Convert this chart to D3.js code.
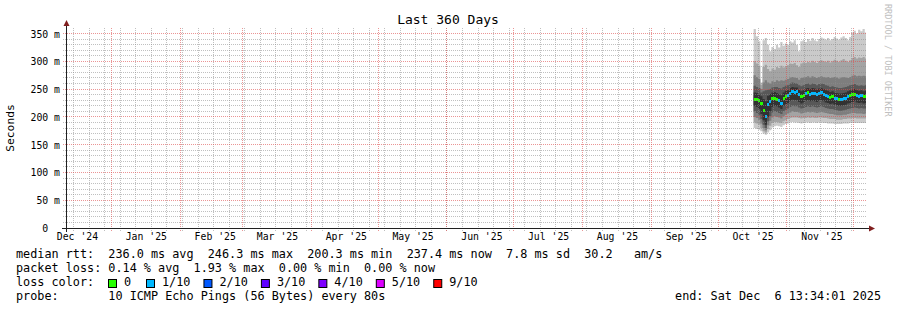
<!DOCTYPE html>
<html><head><meta charset="utf-8">
<script src="https://cdn.jsdelivr.net/npm/d3@7/dist/d3.min.js"></script>
<style>
body{margin:0;background:#fff;}
svg text{font-family:"DejaVu Sans Mono",monospace;}
</style></head><body>
<svg id="c" width="897" height="310"></svg>
<script>
// ---------------- data ----------------
const title = "Last 360 Days";
const yLabel = "Seconds";
const watermark = "RRDTOOL / TOBI OETIKER";
const endTime = "2025-12-06T13:34:01Z";
const spanDays = 360;
const dataStart = "2025-10-17T00:00:00Z";
const yTickValues = [0, 0.05, 0.10, 0.15, 0.20, 0.25, 0.30, 0.35];
const yTickLabels = ["0  ", "50 m", "100 m", "150 m", "200 m", "250 m", "300 m", "350 m"];

// daily median rtt (ms)
const median = [232,231,229,224,212,200.3,222,228,233,234,231,229,225,233,236,238,243,246.3,244,245,240,236,239,242,244,241,243,242,240,243,244,241,239,237,235,236,234,233,232,231,233,234,236,238,240,241,239,237,238,236,237.4];
// daily average lost pings (out of 10)
const loss = [0,0,0,0,0,0.2,0.05,0.03,0,0,0,0.02,0.02,0,0,0.02,0.03,0.02,0.02,0.01,0.02,0,0,0.02,0,0.02,0.01,0.02,0.02,0.01,0.02,0.02,0.01,0.02,0,0,0.02,0.01,0,0.02,0.02,0.01,0.02,0,0,0,0.02,0.01,0.02,0,0];
// sorted ping rtts (ms), p1 = fastest ... p10 = slowest
const p1  = [180,178,177,174,170,168,172,176,181,183,184,183,182,185,187,188,190,191,190,190,189,188,189,190,190,189,190,190,189,190,190,189,189,188,188,188,187,187,187,187,188,188,188,189,189,189,189,189,189,189,189];
const p2  = [190,188,186,180,174,172,178,184,189,191,191,190,189,192,194,196,198,199,199,199,198,197,198,198,199,198,199,198,198,199,199,198,198,197,196,196,196,195,195,195,196,196,197,197,198,198,197,197,197,197,197];
const p3  = [200,198,195,188,180,176,185,193,199,201,200,199,197,201,204,206,208,210,209,209,208,206,207,208,209,208,209,208,207,208,209,208,207,206,205,205,204,203,203,203,204,204,205,206,207,207,206,206,206,205,206];
const p4  = [210,207,203,196,186,180,192,201,208,210,209,207,205,210,213,215,218,220,219,219,217,215,216,218,219,218,219,218,217,218,219,218,216,215,214,214,213,212,211,211,212,213,214,215,216,217,216,215,216,215,215];
const p5  = [220,218,214,205,194,186,200,210,218,220,219,217,214,220,223,225,229,231,230,230,227,224,226,229,230,228,229,228,227,229,230,228,226,225,223,224,222,221,220,220,221,222,224,225,227,228,226,225,226,224,225];
const p6  = [244,243,241,237,232,228,238,241,244,245,243,241,239,244,247,248,252,254,253,253,249,246,248,251,252,250,252,251,249,251,252,250,248,247,245,246,244,243,242,242,243,244,246,248,249,250,248,247,248,246,247];
const p7  = [256,254,252,244,246,248,249,250,253,254,254,252,251,254,256,257,260,262,261,260,257,255,257,259,260,258,260,259,257,259,260,259,257,256,254,255,254,253,252,252,253,254,255,257,258,259,257,256,257,256,257];
const p8  = [275,272,268,250,262,266,262,260,264,263,266,264,266,265,267,268,271,272,271,270,267,270,271,272,273,271,273,272,270,272,273,272,271,272,270,271,272,271,269,271,272,271,270,272,274,275,273,274,273,274,273];
const p9  = [300,296,292,258,290,294,286,282,287,285,290,288,292,289,291,293,296,295,297,293,290,296,298,297,299,298,301,299,297,300,302,300,299,301,298,300,303,301,299,302,304,301,299,302,306,308,305,307,306,308,305];
const p10 = [358,345,336,262,338,342,330,318,326,322,330,325,335,328,332,330,336,334,338,330,318,336,338,335,340,337,342,338,336,340,343,341,339,342,338,340,344,341,339,343,345,342,338,344,352,355,350,357,354,358,352];

const lossThresholds = [0, 1, 2, 3, 4, 5, 9];
const lossLabels = ["0", "1/10", "2/10", "3/10", "4/10", "5/10", "9/10"];
const lossColors = ["#26ff00", "#00b8ff", "#0059ff", "#5e00ff", "#7e00ff", "#dd00ff", "#ff0000"];

const legendMedian = "median rtt:  236.0 ms avg  246.3 ms max  200.3 ms min  237.4 ms now  7.8 ms sd  30.2   am/s";
const legendLoss = "packet loss: 0.14 % avg  1.93 % max  0.00 % min  0.00 % now";
const legendLossColor = "loss color:";
const legendProbe = "probe:       10 ICMP Echo Pings (56 Bytes) every 80s";
const legendEnd = "end: Sat Dec  6 13:34:01 2025";

// ---------------- drawing ----------------
const svg = d3.select("#c");
svg.append("rect").attr("width", 897).attr("height", 310).attr("fill", "#fff");

const end = new Date(endTime);
const start = new Date(+end - spanDays * 864e5);
const x = d3.scaleUtc().domain([start, end]).range([66, 866]);
const y = d3.scaleLinear().domain([0, 0.36]).range([228, 28]);

const pings = [p1, p2, p3, p4, p5, p6, p7, p8, p9, p10];
const t0 = new Date(dataStart);
const rows = median.map((m, i) => ({
  t: d3.utcDay.offset(t0, i),
  p: pings.map(a => a[i] / 1000),
  m: m / 1000,
  l: loss[i]
}));
const rowsExt = rows.concat([Object.assign({}, rows[rows.length - 1], {t: end})]);

// smoke (smokeping style)
const half = pings.length / 2;
const gPlot = svg.append("g");
for (let k = 0; k < half; k++) {
  const c = Math.floor(190 / half * (half - (k + 1))) + 50;
  const hex = d3.rgb(c, c, c).formatHex();
  const area = d3.area()
    .curve(d3.curveStepAfter)
    .x(d => x(d.t))
    .y0(d => y(d.p[k]))
    .y1(d => y(d.p[pings.length - 1 - k]));
  gPlot.append("path").datum(rowsExt).attr("d", area).attr("fill", hex);
}

// median coloured by loss
const lossIndex = l => {
  for (let j = 0; j < lossThresholds.length; j++) if (l <= lossThresholds[j]) return j;
  return lossThresholds.length - 1;
};
const sw = 0.36 / 200 * 1.5;
gPlot.selectAll("rect.med").data(rows).enter().append("rect")
  .attr("class", "med")
  .attr("x", d => x(d.t))
  .attr("width", (d, i) => x(rowsExt[i + 1].t) - x(d.t))
  .attr("y", d => y(d.m + sw))
  .attr("height", d => y(d.m - sw) - y(d.m + sw))
  .attr("fill", d => lossColors[lossIndex(d.l)])
  .attr("shape-rendering", "crispEdges");

// grid: dotted 1px lines, each dot an exact pixel square
const gridGray = "rgba(140,140,140,0.55)";
const gridRed = "rgba(222,79,79,0.6)";
function dots(px, py, len, horiz) {
  let s = "";
  for (let k = 0; k < len; k += 2) {
    const ax = horiz ? px + k : px, ay = horiz ? py : py + k;
    s += `M${ax},${ay}h1v1h-1z`;
  }
  return s;
}
const minorY = d3.range(1, 35).map(v => v / 100).filter(v => Math.round(v * 100) % 5 !== 0);
const majorY = yTickValues.filter(v => v > 0);
function hGrid(vals, color) {
  svg.append("g").selectAll("path").data(vals).enter().append("path")
    .attr("d", d => dots(63, Math.floor(y(d)), 803, true))
    .attr("fill", color).attr("shape-rendering", "crispEdges");
}
function vGrid(vals, color) {
  svg.append("g").selectAll("path").data(vals).enter().append("path")
    .attr("d", d => dots(Math.floor(x(d)), 28, 204, false))
    .attr("fill", color).attr("shape-rendering", "crispEdges");
}
hGrid(minorY, gridGray);
vGrid(d3.utcSunday.range(start, end), gridGray);
hGrid(majorY, gridRed);
vGrid(d3.utcMonth.range(start, end), gridRed);

// axes lines
const axisCol = "#202020";
const ya = Math.floor(y(0)) + 0.5;
svg.append("line").attr("x1", 62).attr("x2", 870).attr("y1", ya).attr("y2", ya)
  .attr("stroke", axisCol);
svg.append("line").attr("x1", 66.5).attr("x2", 66.5).attr("y1", 232).attr("y2", 25)
  .attr("stroke", axisCol);
const arrowCol = "#801f1f";
svg.append("path").attr("d", `M869,${ya - 3}L875,${ya}L869,${ya + 3}Z`).attr("fill", arrowCol);
svg.append("path").attr("d", "M63.5,26L66.5,20L69.5,26Z").attr("fill", arrowCol);

// y tick labels
const gy = svg.append("g").attr("transform", "translate(66,0)")
  .call(d3.axisLeft(y).tickValues(yTickValues).tickSize(0).tickPadding(6)
    .tickFormat((d, i) => yTickLabels[i]));
gy.select(".domain").remove();
gy.selectAll("text").attr("font-size", "9.8px").attr("fill", "#000")
  .attr("font-family", "DejaVu Sans Mono").attr("dy", "0.36em")
  .attr("xml:space", "preserve").style("white-space", "pre");

// x month labels (centred in month)
const months = d3.utcMonth.range(d3.utcMonth.floor(start), end);
const labelDates = months.map(m => new Date(+m + 15.5 * 864e5)).filter(d => x(d) < 866);
const fmt = d3.utcFormat("%b '%y");
const gx = svg.append("g").attr("transform", `translate(0,${y(0)})`)
  .call(d3.axisBottom(x).tickValues(labelDates).tickSize(0).tickPadding(5)
    .tickFormat(d => fmt(d)));
gx.select(".domain").remove();
gx.selectAll("text").attr("font-size", "9.8px").attr("fill", "#000").attr("font-family", "DejaVu Sans Mono");

// title, y label, watermark
svg.append("text").attr("x", 448).attr("y", 24).attr("text-anchor", "middle")
  .attr("font-size", "13px").text(title);
svg.append("text").attr("transform", "translate(14,128) rotate(-90)").attr("text-anchor", "middle")
  .attr("font-size", "11.3px").text(yLabel);
svg.append("text").attr("transform", "translate(885,4) rotate(90)")
  .attr("font-size", "8.5px").attr("fill", "#c0c0c0").text(watermark);

// legend
const lfs = "11.8px";
const lg = svg.append("g").attr("font-size", lfs).attr("fill", "#000");
[[legendMedian, 258], [legendLoss, 272], [legendLossColor, 286], [legendProbe, 300]].forEach(([t, yy]) => {
  lg.append("text").attr("x", 16).attr("y", yy).attr("xml:space", "preserve")
    .style("white-space", "pre").text(t);
});
lossLabels.forEach((lab, k) => {
  const bx = k === 0 ? 108 : 146 + (k - 1) * 57.45;
  lg.append("rect").attr("x", bx + 0.5).attr("y", 279.5).attr("width", 8).attr("height", 8)
    .attr("fill", lossColors[k]).attr("stroke", "#000").attr("stroke-width", 1);
  lg.append("text").attr("x", bx + 16).attr("y", 286).text(lab);
});
lg.append("text").attr("x", 881).attr("y", 300).attr("text-anchor", "end")
  .attr("xml:space", "preserve").style("white-space", "pre").text(legendEnd);
</script>
</body></html>
